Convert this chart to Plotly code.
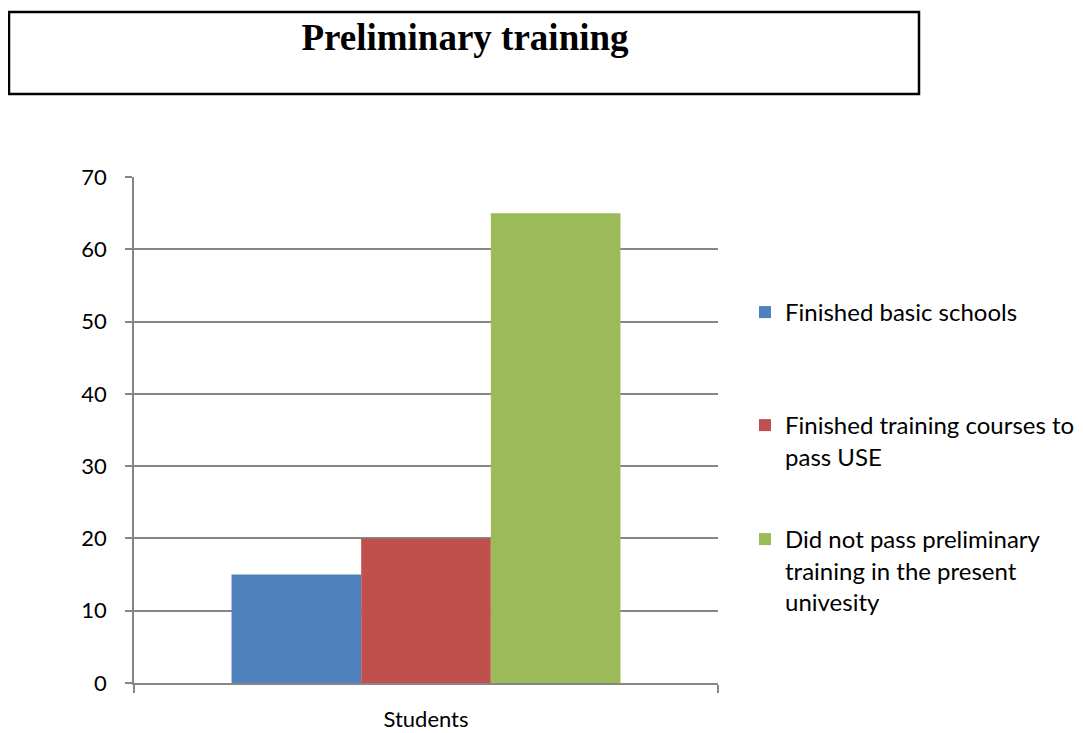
import plotly.graph_objects as go

categories = ["Students"]
series_names = [
    "Finished basic schools",
    "Finished training courses to<br>pass USE",
    "Did not pass preliminary<br>training in the present<br>univesity",
]
series_values = [[15], [20], [65]]
series_colors = ["#4F81BD", "#C0504D", "#9BBB59"]
y_ticks = [0, 10, 20, 30, 40, 50, 60, 70]

OFF = 8  # page body offset
W, H = 1083, 733
L, R, T, B = 134 - OFF, 718 - OFF, 177 - OFF, 683 - OFF
pw, ph = R - L, B - T

def px_x(x):
    return (x - OFF - L) / pw

def px_y(y):
    return (B - (y - OFF)) / ph

legend_names = ["legend", "legend2", "legend3"]
legend_tops = [290, 403, 517]

fig = go.Figure()
for name, vals, col, lg in zip(series_names, series_values, series_colors, legend_names):
    fig.add_trace(go.Bar(x=categories, y=vals, name=name, marker=dict(color=col, line=dict(width=0)),
                         legend=lg))

font_fam = "Lato, 'Open Sans', sans-serif"
layout_legends = {}
for lg, top in zip(legend_names, legend_tops):
    layout_legends[lg] = dict(
        x=px_x(745), y=px_y(top), xanchor="left", yanchor="top",
        xref="paper", yref="paper",
        font=dict(family=font_fam, size=24, color="#000"),
        bgcolor="rgba(0,0,0,0)", valign="top", itemclick=False,
    )

fig.update_layout(
    width=W, height=H,
    margin=dict(l=L, r=W - R, t=T, b=H - B, autoexpand=False),
    paper_bgcolor="white", plot_bgcolor="white",
    barmode="group", bargap=0.334, bargroupgap=0,
    showlegend=True,
    title=dict(text="<b>Preliminary training</b>", x=(465 - OFF) / W, xanchor="center",
               y=1 - (37 - OFF) / H, yanchor="middle", xref="container", yref="container",
               font=dict(family="'Liberation Serif', 'Times New Roman', serif", size=37, color="#000")),
    xaxis=dict(type="category", showline=True, linecolor="#868686", linewidth=1.5,
               ticks="outside", tickson="boundaries", ticklen=8, tickcolor="#868686",
               tickwidth=1.5, showgrid=False, automargin=False,
               tickfont=dict(family=font_fam, size=22, color="#000"),
               ticklabelstandoff=16),
    yaxis=dict(range=[0, 70], tickvals=y_ticks, showline=True, linecolor="#868686",
               linewidth=1.5, ticks="outside", ticklen=7, tickcolor="#868686", tickwidth=1.5,
               showgrid=True, gridcolor="#868686", gridwidth=1.5, zeroline=False,
               automargin=False,
               tickfont=dict(family=font_fam, size=22, color="#000"),
               ticklabelstandoff=14),
    shapes=[dict(type="rect", xref="paper", yref="paper",
                 x0=px_x(9), x1=px_x(919), y0=px_y(94), y1=px_y(12),
                 line=dict(color="#000", width=2.5), fillcolor="rgba(0,0,0,0)")],
    **layout_legends,
)

fig.write_html("out.html")
